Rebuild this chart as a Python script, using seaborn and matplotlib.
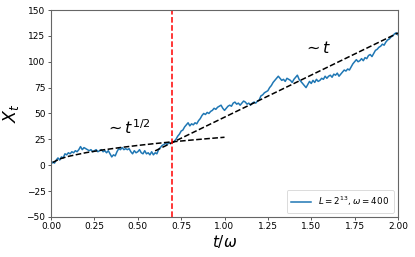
import numpy as np
import pandas as pd
import matplotlib
matplotlib.use("Agg")
import matplotlib.pyplot as plt
import seaborn as sns

# ---- data ----
t_values = [round(0.01 * i, 2) for i in range(201)]
x_values = [
    1, 3, 2, 5, 7, 5, 8, 7, 11, 10,
    12, 11, 13, 12, 14, 13, 15, 18, 15, 17,
    16, 15, 14, 15, 13, 14, 15, 13, 14, 15,
    13, 14, 12, 14, 11, 8, 10, 9, 13, 16,
    15, 17, 15, 16, 15, 16, 13, 11, 14, 12,
    13, 15, 12, 11, 14, 11, 12, 10, 13, 10,
    12, 11, 15, 17, 19, 20, 21, 20, 22, 21,
    22, 23, 25, 28, 30, 33, 34, 37, 39, 41,
    38, 40, 39, 41, 40, 43, 45, 48, 50, 49,
    51, 50, 52, 53, 55, 54, 56, 57, 58, 55,
    53, 55, 57, 58, 57, 60, 61, 59, 60, 58,
    60, 62, 61, 59, 60, 58, 60, 61, 60, 62,
    63, 67, 68, 70, 71, 72, 75, 77, 80, 82,
    84, 86, 84, 82, 83, 81, 84, 83, 82, 80,
    83, 85, 87, 83, 81, 79, 77, 75, 78, 81,
    79, 82, 80, 83, 81, 82, 84, 83, 86, 84,
    86, 87, 85, 88, 87, 89, 86, 88, 90, 92,
    91, 93, 92, 95, 98, 100, 102, 100, 101, 103,
    101, 104, 103, 106, 107, 105, 108, 111, 112, 114,
    115, 117, 116, 119, 121, 122, 124, 125, 127, 128,
    126,
]
legend_label = r"$L=2^{13}$, $\omega=400$"

# fit guides
sqrt_t = [0.01, 0.05, 0.1, 0.2, 0.3, 0.4, 0.5, 0.6, 0.7, 0.8, 0.9, 1.0]
sqrt_amp = 27.0
lin_t = [0.6, 2.0]
lin_slope = 81.4
lin_offset = -35.0
t_cross = 0.7

df = pd.DataFrame({"t": t_values, "X": x_values})

fig = plt.figure(figsize=(4.15, 2.57), dpi=100)
ax = fig.add_axes([0.123, 0.156, 0.836, 0.805])

sns.lineplot(data=df, x="t", y="X", ax=ax, color="#1f77b4", linewidth=1.1,
             label=legend_label)

st = np.array(sqrt_t)
ax.plot(st, sqrt_amp * np.sqrt(st), color="black", linestyle="--", linewidth=1.1)
lt = np.array(lin_t)
ax.plot(lt, lin_slope * lt + lin_offset, color="black", linestyle="--", linewidth=1.1)
ax.axvline(t_cross, color="red", linestyle="--", linewidth=1.1)

ax.text(0.31, 30, r"$\sim t^{1/2}$", fontsize=11.5)
ax.text(1.45, 108, r"$\sim t$", fontsize=11.5)

ax.set_xlim(0, 2.0)
ax.set_ylim(-50, 150)
ax.set_xticks([0, 0.25, 0.5, 0.75, 1.0, 1.25, 1.5, 1.75, 2.0])
ax.set_yticks([-50, -25, 0, 25, 50, 75, 100, 125, 150])
ax.tick_params(labelsize=6.5, length=2.5, width=0.7, color="0.35", pad=1.5)
for s in ax.spines.values():
    s.set_color("0.4")
    s.set_linewidth(0.8)

ax.set_xlabel(r"$t/\omega$", fontsize=11, labelpad=1)
ax.set_ylabel(r"$X_t$", fontsize=12.5, labelpad=4)

leg = ax.legend(loc="lower right", fontsize=6.3, frameon=True, handlelength=2.3,
                borderpad=0.5, fancybox=True)
leg.get_frame().set_linewidth(0.6)

fig.savefig("out.png", dpi=100)
